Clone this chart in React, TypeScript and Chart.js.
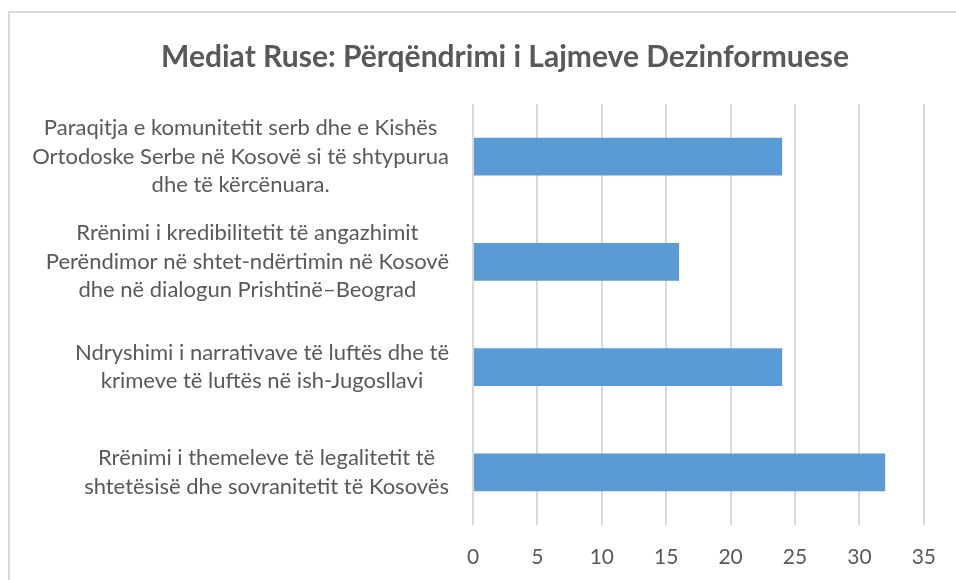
import React, { useEffect, useRef } from "react";
import { Chart, registerables } from "chart.js";

Chart.register(...registerables);

const TITLE = "Mediat Ruse: Përqëndrimi i Lajmeve Dezinformuese";

const categories: string[][] = [
  ["Paraqitja e komunitetit serb dhe e Kishës", "Ortodoske Serbe në Kosovë si të shtypurua", "dhe të kërcënuara."],
  ["Rrënimi i kredibilitetit të angazhimit", "Perëndimor në shtet-ndërtimin në Kosovë", "dhe në dialogun Prishtinë–Beograd"],
  ["Ndryshimi i narrativave të luftës dhe të", "krimeve të luftës në ish-Jugosllavi"],
  ["Rrënimi i themeleve të legalitetit të", "shtetësisë dhe sovranitetit të Kosovës"],
];

const values: number[] = [24, 16, 24, 32];

const xTicks: number[] = [0, 5, 10, 15, 20, 25, 30, 35];

const TEXT = "#595959";
const GRID = "#d9d9d9";
const BAR = "#5b9bd5";
const FONT = "Lato";

const frame = {
  id: "frame",
  beforeDraw(chart: any) {
    const ctx = chart.ctx;
    ctx.save();
    ctx.fillStyle = "#ffffff";
    ctx.fillRect(0, 0, chart.width, chart.height);
    ctx.strokeStyle = GRID;
    ctx.lineWidth = 2;
    ctx.strokeRect(9, 12, chart.width + 40, chart.height + 40);
    ctx.restore();
  },
};

const yLabels = {
  id: "yLabels",
  afterDraw(chart: any) {
    const ctx = chart.ctx;
    const yScale = chart.scales.y;
    const right = chart.chartArea.left - 24;
    const lh = 28.5;
    ctx.save();
    ctx.font = `22px ${FONT}`;
    ctx.fillStyle = TEXT;
    ctx.textAlign = "center";
    ctx.textBaseline = "middle";
    categories.forEach((lines, i) => {
      const py = yScale.getPixelForTick(i);
      let widest = 0;
      lines.forEach((l) => {
        widest = Math.max(widest, ctx.measureText(l).width);
      });
      const cx = right - widest / 2;
      lines.forEach((l, j) => {
        ctx.fillText(l, cx, py + (j - (lines.length - 1) / 2) * lh);
      });
    });
    ctx.restore();
  },
};

export default function App() {
  const ref = useRef<HTMLCanvasElement | null>(null);
  useEffect(() => {
    if (!ref.current) return;
    const chart = new Chart(ref.current, {
      type: "bar",
      data: {
        labels: categories.map((c) => c.join(" ")),
        datasets: [
          {
            data: values,
            backgroundColor: BAR,
            borderWidth: 0,
            barPercentage: 0.45,
            categoryPercentage: 0.8,
          },
        ],
      },
      options: {
        indexAxis: "y",
        animation: false,
        responsive: false,
        layout: { padding: { left: 82, right: 28, top: 0, bottom: 0 } },
        plugins: {
          legend: { display: false },
          tooltip: { enabled: false },
          title: {
            display: true,
            text: TITLE,
            color: TEXT,
            font: { family: FONT, size: 30, weight: "bold" },
            padding: { top: 39, bottom: 29 },
          },
        },
        scales: {
          x: {
            min: 0,
            max: 35,
            afterBuildTicks: (scale: any) => {
              scale.ticks = xTicks.map((v) => ({ value: v }));
            },
            afterFit: (scale: any) => {
              scale.height = 55;
            },
            grid: { color: GRID, lineWidth: 2, drawTicks: false },
            border: { display: false },
            ticks: {
              color: TEXT,
              font: { family: FONT, size: 21 },
              padding: 20,
            },
          },
          y: {
            grid: { display: false },
            border: { display: false },
            ticks: { display: false },
            afterFit: (scale: any) => {
              scale.width = 391;
            },
          },
        },
      },
      plugins: [frame, yLabels],
    });
    return () => chart.destroy();
  }, []);
  return (
    <div style={{ position: "fixed", left: 0, top: 0, width: 956, height: 580 }}>
      <canvas ref={ref} width={956} height={580} style={{ display: "block" }} />
    </div>
  );
}
